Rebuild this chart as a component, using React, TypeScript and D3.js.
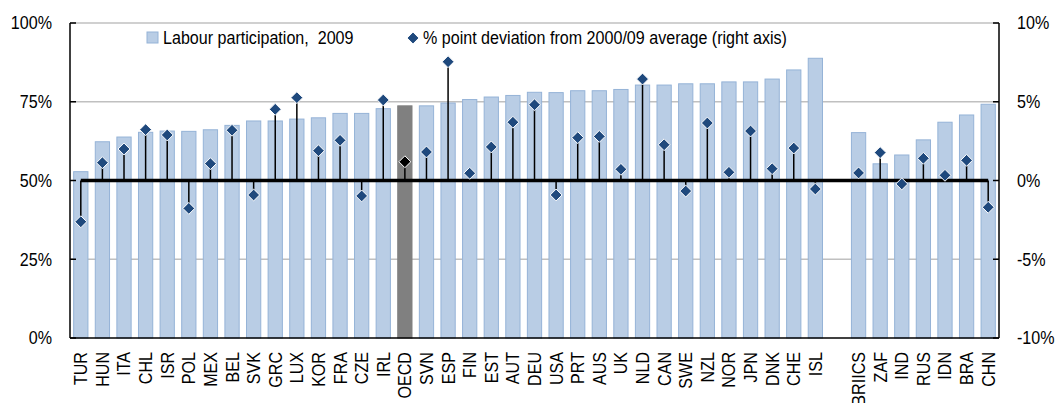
import React from "react";
import * as d3 from "d3";

const categories = ["TUR","HUN","ITA","CHL","ISR","POL","MEX","BEL","SVK","GRC","LUX","KOR","FRA","CZE","IRL","OECD","SVN","ESP","FIN","EST","AUT","DEU","USA","PRT","AUS","UK","NLD","CAN","SWE","NZL","NOR","JPN","DNK","CHE","ISL","","BRIICS","ZAF","IND","RUS","IDN","BRA","CHN"];
const participation = [52.8,62.3,63.8,65.3,65.7,65.6,66.1,67.5,68.9,68.9,69.5,69.9,71.3,71.3,72.8,73.7,73.7,74.6,75.7,76.5,77.0,78.0,77.9,78.5,78.5,78.9,80.3,80.3,80.7,80.7,81.3,81.3,82.2,85.1,88.8,null,65.2,55.3,58.1,62.9,68.5,70.8,74.2];
const deviation = [-2.62,1.13,2.0,3.23,2.89,-1.77,1.07,3.19,-0.92,4.52,5.26,1.89,2.55,-0.98,5.11,1.19,1.81,7.54,0.46,2.13,3.7,4.81,-0.92,2.72,2.8,0.71,6.44,2.27,-0.67,3.65,0.52,3.14,0.75,2.06,-0.54,null,0.48,1.77,-0.22,1.41,0.33,1.28,-1.7];
const leftTicks = [0,25,50,75,100];
const rightTicks = [-10,-5,0,5,10];
const legendLabels = ["Labour participation, \u00a02009","% point deviation from 2000/09 average (right axis)"];

const W = 1055, H = 403;
const M = { left: 70, right: 999, top: 23, bottom: 338 };
const FONT = "'Liberation Sans', Arial, sans-serif";
const FS = 18.5;
const SX = 0.87;

function T(props: { x: number; y: number; rotate?: boolean; anchor?: string; children: React.ReactNode }) {
  const { x, y, rotate, anchor, children } = props;
  const tr = `translate(${x},${y})${rotate ? " rotate(-90)" : ""} scale(${SX},1)`;
  return (
    <text transform={tr} textAnchor={anchor || "start"} dy="0.35em" fontSize={FS} fill="#000">{children}</text>
  );
}

export default function App() {
  const x = d3.scaleBand<number>().domain(d3.range(categories.length)).range([M.left, M.right]).paddingInner(0.34).paddingOuter(0.17);
  const yL = d3.scaleLinear().domain([0, 100]).range([M.bottom, M.top]);
  const yR = d3.scaleLinear().domain([-10, 10]).range([M.bottom, M.top]);
  const cx = (i: number) => (x(i) as number) + x.bandwidth() / 2;
  const firstC = cx(0), lastC = cx(categories.length - 1);
  const diamond = d3.symbol().type(d3.symbolDiamond2).size(90)();
  const blue = "#1f497d";
  return (
    <svg width={W} height={H} style={{ position: "absolute", left: 0, top: 0, background: "#fff" }} fontFamily={FONT}>
      {leftTicks.filter(t => t !== 0 && t !== 50).map(t => (
        <line key={t} x1={M.left} x2={M.right} y1={yL(t)} y2={yL(t)} stroke="#c0c0c0" strokeWidth={1.5} />
      ))}
      {participation.map((v, i) => v == null ? null : (
        <rect key={i} x={x(i)} y={yL(v)} width={x.bandwidth()} height={yL(0) - yL(v)}
          fill={categories[i] === "OECD" ? "#808080" : "#b9cde5"}
          stroke={categories[i] === "OECD" ? "#808080" : "#95b3d7"} strokeWidth={1} />
      ))}
      <line x1={M.left} x2={M.left} y1={M.top} y2={M.bottom} stroke="#000" strokeWidth={1.5} />
      <line x1={M.right} x2={M.right} y1={M.top} y2={M.bottom} stroke="#000" strokeWidth={1.5} />
      <line x1={M.left} x2={M.right} y1={M.bottom} y2={M.bottom} stroke="#000" strokeWidth={1.5} />
      {leftTicks.map(t => (
        <g key={t}>
          <line x1={M.left} x2={M.left + 6} y1={yL(t)} y2={yL(t)} stroke="#000" strokeWidth={1.5} />
          <T x={52} y={yL(t)} anchor="end">{t}%</T>
        </g>
      ))}
      {rightTicks.map(t => (
        <g key={t}>
          <line x1={M.right - 6} x2={M.right} y1={yR(t)} y2={yR(t)} stroke="#000" strokeWidth={1.5} />
          <T x={1017} y={yR(t)}>{t}%</T>
        </g>
      ))}
      <line x1={firstC} x2={lastC} y1={yR(0)} y2={yR(0)} stroke="#000" strokeWidth={3.5} />
      {deviation.map((d, i) => d == null ? null : (
        <line key={i} x1={cx(i)} x2={cx(i)} y1={yR(0)} y2={yR(d)} stroke="#000" strokeWidth={1.5} />
      ))}
      {deviation.map((d, i) => d == null ? null : (
        <path key={i} d={diamond as string} transform={`translate(${cx(i)},${yR(d)})`}
          fill={categories[i] === "OECD" ? "#000" : blue} stroke="#fff" strokeWidth={1} />
      ))}
      {categories.map((c, i) => (
        <T key={i} x={cx(i)} y={352} rotate anchor="end">{c}</T>
      ))}
      <rect x={147} y={32} width={11} height={11} fill="#b9cde5" stroke="#95b3d7" />
      <T x={163} y={38}>{legendLabels[0]}</T>
      <path d={diamond as string} transform="translate(413,38)" fill={blue} stroke="#fff" strokeWidth={1} />
      <T x={423} y={38}>{legendLabels[1]}</T>
    </svg>
  );
}
